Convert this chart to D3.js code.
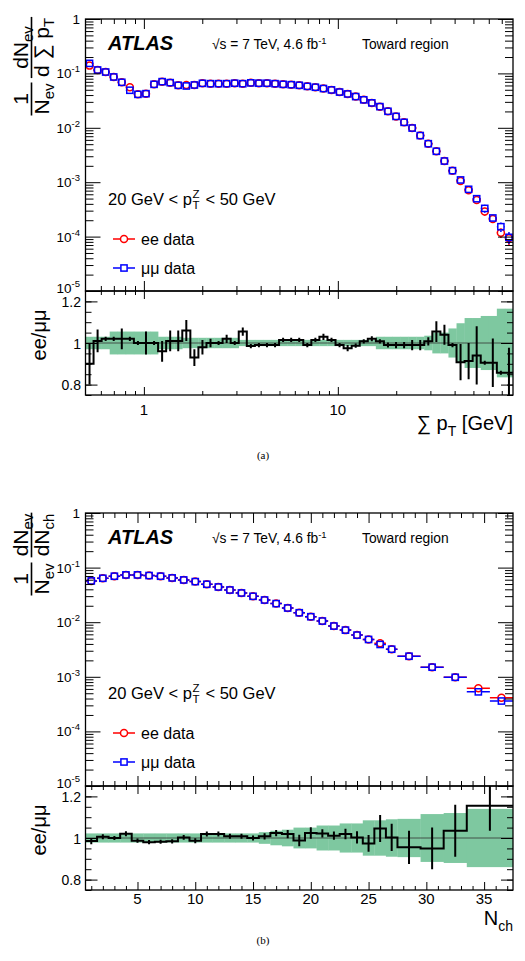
<!DOCTYPE html>
<html>
<head>
<meta charset="utf-8">
<script src="https://cdn.jsdelivr.net/npm/d3@7"></script>
<style>
  body { margin: 0; background: #fff; }
  svg { display: block; }
  text { font-family: "Liberation Sans", Arial, Helvetica, sans-serif; fill: #000; }
</style>
</head>
<body>
<div id="chart"></div>
<script>
// ---------- (a) sum pT, toward region ----------
const ptEdges = [0.5, 0.5502, 0.6055, 0.6664, 0.7333, 0.8070, 0.8881, 0.9773, 1.0755, 1.1836,
  1.3025, 1.4334, 1.5775, 1.7360, 1.9104, 2.1024, 2.3137, 2.5462, 2.8021, 3.0837,
  3.3936, 3.7346, 4.1099, 4.5229, 4.9774, 5.4776, 6.0280, 6.6338, 7.3004, 8.0340,
  8.8414, 9.7299, 10.708, 11.784, 12.968, 14.271, 15.705, 17.283, 19.020, 20.932,
  23.035, 25.350, 27.897, 30.701, 33.786, 37.181, 40.917, 45.029, 49.554, 54.534,
  60.014, 66.045, 72.682, 80.0];
const ptMuMu = [0.153, 0.1155, 0.106, 0.086, 0.0686, 0.049, 0.0412, 0.0424, 0.063, 0.0705,
  0.0676, 0.0604, 0.0587, 0.0612, 0.0657, 0.0647, 0.0647, 0.0647, 0.066, 0.0647,
  0.067, 0.066, 0.066, 0.0647, 0.063, 0.062, 0.0605, 0.0578, 0.0557, 0.0527,
  0.0497, 0.0454, 0.0419, 0.0375, 0.0327, 0.0287, 0.0245, 0.0201, 0.0162, 0.0126,
  0.0099, 0.0072, 0.0051, 0.0037, 0.00245, 0.00163, 0.00110, 0.00074, 0.000497, 0.00033,
  0.00022, 0.000152, 0.000097];
const ptEE = [0.139, 0.1155, 0.106, 0.086, 0.0686, 0.0557, 0.0412, 0.0424, 0.063, 0.0705,
  0.0676, 0.0604, 0.061, 0.0612, 0.0657, 0.0647, 0.0647, 0.0647, 0.066, 0.0647,
  0.067, 0.066, 0.066, 0.0647, 0.063, 0.062, 0.0605, 0.0578, 0.0557, 0.0527,
  0.0497, 0.0454, 0.0419, 0.0375, 0.0327, 0.0287, 0.0245, 0.0201, 0.0162, 0.0126,
  0.0099, 0.0072, 0.0051, 0.0037, 0.00245, 0.00163, 0.00105, 0.00071, 0.00047, 0.00029,
  0.00021, 0.000118, 0.000093];
const ptRelErr = [0.01, 0.01, 0.01, 0.01, 0.01, 0.01, 0.01, 0.01, 0.01, 0.01,
  0.01, 0.01, 0.01, 0.01, 0.01, 0.01, 0.01, 0.01, 0.01, 0.01,
  0.01, 0.01, 0.01, 0.01, 0.01, 0.01, 0.01, 0.01, 0.01, 0.01,
  0.01, 0.01, 0.01, 0.01, 0.01, 0.01, 0.01, 0.01, 0.01, 0.01,
  0.02, 0.02, 0.03, 0.03, 0.04, 0.05, 0.07, 0.09, 0.11, 0.17,
  0.15, 0.2, 0.25];
const ptRatio = [0.90, 1.01, 1.02, 1.02, 1.02, 1.02, 1.00, 1.00, 1.00, 0.96,
  1.01, 1.01, 1.06, 0.93, 0.98, 1.00, 1.00, 1.02, 1.00, 1.055,
  0.985, 0.99, 0.99, 0.99, 1.015, 1.015, 1.015, 0.99, 1.015, 1.03,
  1.015, 0.99, 0.975, 0.987, 1.008, 1.02, 1.008, 0.99, 0.99, 0.99,
  0.99, 0.99, 1.008, 1.055, 1.04, 0.99, 0.908, 0.913, 0.94, 0.905,
  0.905, 0.857, 0.857];
const ptRatioErr = [0.10, 0.055, 0.01, 0.01, 0.05, 0.01, 0.01, 0.055, 0.01, 0.05,
  0.05, 0.05, 0.05, 0.04, 0.035, 0.02, 0.01, 0.02, 0.01, 0.02,
  0.01, 0.01, 0.01, 0.01, 0.01, 0.01, 0.01, 0.01, 0.01, 0.015,
  0.01, 0.01, 0.015, 0.01, 0.01, 0.012, 0.01, 0.012, 0.015, 0.015,
  0.025, 0.025, 0.02, 0.05, 0.048, 0.01, 0.087, 0.087, 0.14, 0.01,
  0.117, 0.01, 0.12];
const ptBand = [0.03, 0.03, 0.03, 0.055, 0.055, 0.055, 0.055, 0.055, 0.055, 0.03,
  0.03, 0.03, 0.025, 0.025, 0.025, 0.025, 0.025, 0.025, 0.025, 0.015,
  0.015, 0.015, 0.015, 0.015, 0.015, 0.015, 0.015, 0.015, 0.015, 0.015,
  0.015, 0.015, 0.015, 0.015, 0.015, 0.015, 0.03, 0.03, 0.03, 0.03,
  0.03, 0.03, 0.035, 0.05, 0.05, 0.07, 0.095, 0.12, 0.12, 0.13,
  0.13, 0.165, 0.165];
const ptTickValues = [1, 10];
const ptTickLabels = ['1', '10'];

// ---------- (b) charged multiplicity, toward region ----------
const nchEdges = [0.5, 1.5, 2.5, 3.5, 4.5, 5.5, 6.5, 7.5, 8.5, 9.5, 10.5, 11.5, 12.5, 13.5,
  14.5, 15.5, 16.5, 17.5, 18.5, 19.5, 20.5, 21.5, 22.5, 23.5, 24.5, 25.5, 26.5, 27.5,
  29.5, 31.5, 33.5, 35.5, 37.5];
const nchMuMu = [0.057, 0.0638, 0.0695, 0.0735, 0.0735, 0.0715, 0.0695, 0.0647, 0.0594, 0.0554,
  0.0495, 0.0442, 0.0389, 0.0343, 0.0298, 0.0255, 0.0219, 0.0182, 0.0149, 0.0126,
  0.0105, 0.0085, 0.00716, 0.0058, 0.00483, 0.00391, 0.0032, 0.00238, 0.0015, 0.00098,
  0.00053, 0.00036];
const nchEE = [0.057, 0.0638, 0.0695, 0.0735, 0.0735, 0.0715, 0.0695, 0.0647, 0.0594, 0.0554,
  0.0495, 0.0442, 0.0389, 0.0343, 0.0298, 0.0255, 0.0219, 0.0182, 0.0149, 0.0126,
  0.0105, 0.0085, 0.00716, 0.0058, 0.00483, 0.0041, 0.0032, 0.00238, 0.0015, 0.00098,
  0.00062, 0.000415];
const nchRelErr = [0.005, 0.005, 0.005, 0.005, 0.005, 0.005, 0.005, 0.005, 0.005, 0.005,
  0.005, 0.005, 0.005, 0.005, 0.005, 0.005, 0.005, 0.005, 0.005, 0.005,
  0.005, 0.005, 0.005, 0.005, 0.005, 0.01, 0.01, 0.02, 0.03, 0.04,
  0.06, 0.08];
const nchRatioEdges = [0.5, 1.5, 2.5, 3.5, 4.5, 5.5, 6.5, 7.5, 8.5, 9.5, 10.5, 11.5, 12.5, 13.5,
  14.5, 15.5, 16.5, 17.5, 18.5, 19.5, 20.5, 21.5, 22.5, 23.5, 24.5, 25.5, 26.5, 27.5,
  29.5, 31.5, 33.5, 37.5];
const nchRatio = [0.985, 1.006, 1.0, 1.02, 0.987, 0.98, 0.982, 0.984, 1.003, 0.987,
  1.019, 1.019, 1.008, 1.008, 1.0, 1.008, 1.024, 1.019, 0.988, 1.024,
  1.022, 1.011, 1.019, 1.003, 0.974, 1.046, 1.003, 0.955, 0.95, 1.035, 1.155];
const nchRatioErr = [0.015, 0.012, 0.01, 0.012, 0.01, 0.01, 0.01, 0.01, 0.012, 0.012,
  0.012, 0.012, 0.012, 0.012, 0.012, 0.015, 0.015, 0.02, 0.028, 0.028,
  0.02, 0.02, 0.025, 0.03, 0.04, 0.065, 0.065, 0.08, 0.1, 0.125, 0.12];
const nchBand = [0.022, 0.022, 0.022, 0.022, 0.022, 0.022, 0.022, 0.022, 0.022, 0.022,
  0.022, 0.022, 0.022, 0.022, 0.022, 0.028, 0.035, 0.04, 0.05, 0.05,
  0.06, 0.06, 0.07, 0.07, 0.085, 0.085, 0.09, 0.092, 0.115, 0.12, 0.14];
const nchTickValues = [5, 10, 15, 20, 25, 30, 35];
const nchTickLabels = ['5', '10', '15', '20', '25', '30', '35'];

// shared axis labels
const mainYTicks = [1, 1e-1, 1e-2, 1e-3, 1e-4, 1e-5];
const mainYBase = ['1', '10', '10', '10', '10', '10'];
const mainYExp = ['', '-1', '-2', '-3', '-4', '-5'];
const ratioYTicks = [1.2, 1, 0.8];
const ratioYLabels = ['1.2', '1', '0.8'];

// ---------- layout ----------
const W = 525, H = 961;
const left = 85.5, right = 513;
const red = '#ff0000', blue = '#0000ff', green = '#7ec8a0';

const svg = d3.select('#chart').append('svg')
    .attr('width', W)
    .attr('height', H);
const defs = svg.append('defs');

function tickSet(axis, scale, values, size, tx, ty) {
    const a = svg.append('g')
        .attr('transform', `translate(${tx},${ty})`)
        .call(axis(scale).tickValues(values).tickSize(size).tickFormat(''));
    a.select('.domain').remove();
    a.selectAll('line').attr('stroke', '#000').attr('stroke-width', 1);
}

function rotatedText(cx, cy, size) {
    // local x runs up the page, local y is the screen x of the baseline
    return svg.append('g')
        .attr('transform', `translate(0,${cy}) rotate(-90)`)
        .append('text')
        .attr('x', 0).attr('y', cx)
        .attr('text-anchor', 'middle')
        .attr('font-size', size);
}

function fraction(cy, num, den) {
    const g = svg.append('g').attr('transform', `translate(0,${cy}) rotate(-90)`);
    const parts = [[num, 28], [den, 49]].map(([p, base]) => {
        const t = g.append('text').attr('x', 0).attr('y', base)
            .attr('text-anchor', 'middle').attr('font-size', 21);
        t.append('tspan').text(p[0]);
        if (p[1]) t.append('tspan').attr('font-size', 15).attr('dy', 5).text(p[1]);
        return t.node().getComputedTextLength();
    });
    const half = Math.max(...parts) / 2 + 1;
    g.append('line').attr('x1', -half).attr('x2', half).attr('y1', 31.5).attr('y2', 31.5)
        .attr('stroke', '#000').attr('stroke-width', 1.6);
}

function drawPanel(p) {
    const x = p.x;
    const y = d3.scaleLog().domain([1e-5, 1]).range([p.mid, p.top]);
    const r = d3.scaleLinear().domain([0.75, 1.25]).range([p.bottom, p.mid]);

    defs.append('clipPath').attr('id', p.id + 'main').append('rect')
        .attr('x', left).attr('y', p.top).attr('width', right - left).attr('height', p.mid - p.top);
    defs.append('clipPath').attr('id', p.id + 'ratio').append('rect')
        .attr('x', left).attr('y', p.mid).attr('width', right - left).attr('height', p.bottom - p.mid);

    // ratio panel: band, unity line, step histogram, error bars
    const gr = svg.append('g').attr('clip-path', `url(#${p.id}ratio)`);
    const re = p.rEdges;
    gr.selectAll('rect.band').data(p.band).join('rect')
        .attr('class', 'band')
        .attr('x', (d, i) => x(re[i]))
        .attr('width', (d, i) => x(re[i + 1]) - x(re[i]) + 0.3)
        .attr('y', d => r(1 + d))
        .attr('height', d => r(1 - d) - r(1 + d))
        .attr('fill', green);
    gr.append('line')
        .attr('x1', left).attr('x2', right).attr('y1', r(1)).attr('y2', r(1))
        .attr('stroke', '#333').attr('stroke-width', 0.8);
    const steps = p.ratio.map((v, i) => [re[i], v]);
    steps.push([re[re.length - 1], p.ratio[p.ratio.length - 1]]);
    gr.append('path')
        .attr('d', d3.line().x(d => x(d[0])).y(d => r(d[1])).curve(d3.curveStepAfter)(steps))
        .attr('fill', 'none').attr('stroke', '#000').attr('stroke-width', 2);
    gr.selectAll('line.err').data(p.ratio).join('line')
        .attr('class', 'err')
        .attr('x1', (d, i) => x(p.centre(re[i], re[i + 1])))
        .attr('x2', (d, i) => x(p.centre(re[i], re[i + 1])))
        .attr('y1', (d, i) => r(d - p.rErr[i]))
        .attr('y2', (d, i) => r(d + p.rErr[i]))
        .attr('stroke', '#000').attr('stroke-width', 2);

    // main panel: ee circles, mumu squares
    const gm = svg.append('g').attr('clip-path', `url(#${p.id}main)`);
    [[p.ee, red, 'circle'], [p.mm, blue, 'square']].forEach(([vals, col, shape]) => {
        const pts = vals.map((v, i) => {
            const lo = p.edges[i], hi = p.edges[i + 1];
            return { lo, hi, c: p.centre(lo, hi), v, e: p.relErr[i] };
        });
        const gap = 3.5;
        const s = gm.append('g').attr('stroke', col).attr('stroke-width', 1.5).attr('fill', 'none');
        s.selectAll('path.bar').data(pts).join('path')
            .attr('class', 'bar')
            .attr('d', d => {
                const cx = x(d.c), cy = y(d.v);
                let path = `M${x(d.lo)},${cy}H${Math.max(x(d.lo), cx - gap)}M${Math.min(x(d.hi), cx + gap)},${cy}H${x(d.hi)}`;
                const up = y(d.v * (1 + d.e)), dn = y(d.v * (1 - d.e));
                if (cy - up > gap) path += `M${cx},${up}V${cy - gap}`;
                if (dn - cy > gap) path += `M${cx},${cy + gap}V${dn}`;
                return path;
            });
        if (shape === 'circle') {
            s.selectAll('circle').data(pts).join('circle')
                .attr('cx', d => x(d.c)).attr('cy', d => y(d.v)).attr('r', 3.5);
        } else {
            s.selectAll('rect').data(pts).join('rect')
                .attr('x', d => x(d.c) - 3.1).attr('y', d => y(d.v) - 3.1)
                .attr('width', 6.2).attr('height', 6.2);
        }
    });

    // ticks, all pointing inward
    const yMinor = [];
    for (let e = -5; e < 0; e++) for (let m = 2; m <= 9; m++) yMinor.push(m * Math.pow(10, e));
    tickSet(d3.axisLeft, y, mainYTicks, -15, left, 0);
    tickSet(d3.axisLeft, y, yMinor, -8, left, 0);
    tickSet(d3.axisRight, y, mainYTicks, -15, right, 0);
    tickSet(d3.axisRight, y, yMinor, -8, right, 0);
    tickSet(d3.axisTop, x, p.xMajor, -10, 0, p.top);
    tickSet(d3.axisTop, x, p.xMinor, -5, 0, p.top);
    tickSet(d3.axisBottom, x, p.xMajor, -10, 0, p.mid);
    tickSet(d3.axisBottom, x, p.xMinor, -5, 0, p.mid);
    tickSet(d3.axisTop, x, p.xMajor, -8, 0, p.mid);
    tickSet(d3.axisTop, x, p.xMinor, -4, 0, p.mid);
    tickSet(d3.axisBottom, x, p.xMajor, -8, 0, p.bottom);
    tickSet(d3.axisBottom, x, p.xMinor, -4, 0, p.bottom);
    const rMinor = d3.range(0.75, 1.2501, 0.05);
    tickSet(d3.axisLeft, r, ratioYTicks, -12, left, 0);
    tickSet(d3.axisLeft, r, rMinor, -6, left, 0);
    tickSet(d3.axisRight, r, ratioYTicks, -12, right, 0);
    tickSet(d3.axisRight, r, rMinor, -6, right, 0);

    // frames
    svg.append('rect').attr('x', left).attr('y', p.top).attr('width', right - left)
        .attr('height', p.mid - p.top).attr('fill', 'none').attr('stroke', '#000').attr('stroke-width', 1.3);
    svg.append('rect').attr('x', left).attr('y', p.mid).attr('width', right - left)
        .attr('height', p.bottom - p.mid).attr('fill', 'none').attr('stroke', '#000').attr('stroke-width', 1.3);

    // tick labels
    svg.append('g').selectAll('text').data(mainYTicks).join('text')
        .attr('x', 80).attr('y', (d, i) => y(d) + (i === mainYTicks.length - 1 ? 2 : 5))
        .attr('text-anchor', 'end').attr('font-size', 13.5)
        .each(function (d, i) {
            const t = d3.select(this);
            t.append('tspan').text(mainYBase[i]);
            if (mainYExp[i]) t.append('tspan').attr('font-size', 9.5).attr('dy', -6).text(mainYExp[i]);
        });
    svg.append('g').selectAll('text').data(ratioYTicks).join('text')
        .attr('x', 81).attr('y', d => r(d) + 5.5)
        .attr('text-anchor', 'end').attr('font-size', 14)
        .text((d, i) => ratioYLabels[i]);
    svg.append('g').selectAll('text').data(p.xMajor).join('text')
        .attr('x', d => x(d)).attr('y', p.xLabelY)
        .attr('text-anchor', 'middle').attr('font-size', 15)
        .text((d, i) => p.xLabels[i]);

    // header texts
    svg.append('text').attr('x', 108).attr('y', p.top + 31)
        .attr('font-size', 20).attr('font-weight', 'bold').attr('font-style', 'italic')
        .text('ATLAS');
    const en = svg.append('text').attr('x', 212).attr('y', p.top + 30).attr('font-size', 13.8);
    en.append('tspan').text('√s = 7 TeV, 4.6 fb');
    en.append('tspan').attr('font-size', 9.5).attr('dy', -5).text('-1');
    svg.append('text').attr('x', 362).attr('y', p.top + 30).attr('font-size', 13.8).text('Toward region');

    // kinematic range
    const kb = p.top + 186;
    const k = svg.append('text').attr('x', 108).attr('y', kb).attr('font-size', 16.5).text('20 GeV < p');
    const kw = k.node().getComputedTextLength();
    svg.append('text').attr('x', 108 + kw + 0.5).attr('y', kb - 7.5).attr('font-size', 11.5).text('Z');
    svg.append('text').attr('x', 108 + kw + 0.5).attr('y', kb + 4).attr('font-size', 11.5).text('T');
    svg.append('text').attr('x', 108 + kw + 13.5).attr('y', kb).attr('font-size', 16.5).text('< 50 GeV');

    // legend
    [['ee data', red, 'circle', 220], ['μμ data', blue, 'square', 249]].forEach(([label, col, shape, dy]) => {
        const ly = p.top + dy, lx = 124;
        const g = svg.append('g').attr('stroke', col).attr('stroke-width', 1.5).attr('fill', 'none');
        g.append('path').attr('d', `M${lx - 11},${ly}H${lx - 3.5}M${lx + 3.5},${ly}H${lx + 11}`);
        if (shape === 'circle') g.append('circle').attr('cx', lx).attr('cy', ly).attr('r', 3.5);
        else g.append('rect').attr('x', lx - 3.1).attr('y', ly - 3.1).attr('width', 6.2).attr('height', 6.2);
        svg.append('text').attr('x', 141).attr('y', ly + 5.5).attr('font-size', 16).text(label);
    });

    // axis titles
    fraction(p.fracTop, p.fracTopParts[0], p.fracTopParts[1]);
    fraction(p.fracOne, ['1', ''], ['N', 'ev']);
    rotatedText(46, (p.mid + p.bottom) / 2 - 8, 20).text('ee/μμ');
    const xt = svg.append('text').attr('x', right).attr('y', p.xTitleY)
        .attr('text-anchor', 'end').attr('font-size', 20);
    p.xTitle.forEach(([txt, kind]) => {
        const ts = xt.append('tspan').text(txt);
        if (kind === 'sub') ts.attr('font-size', 14).attr('dy', 6);
        if (kind === 'back') ts.attr('dy', -6);
    });

    svg.append('text').attr('x', 263).attr('y', p.caption)
        .attr('text-anchor', 'middle').attr('font-size', 11)
        .style('font-family', '"Liberation Serif", "Times New Roman", serif')
        .text(p.id === 'a' ? '(a)' : '(b)');
}

const ptMinor = [0.6, 0.7, 0.8, 0.9, 2, 3, 4, 5, 6, 7, 8, 9, 20, 30, 40, 50, 60, 70];
drawPanel({
    id: 'a', top: 19, mid: 291, bottom: 395,
    x: d3.scaleLog().domain([0.5, 80]).range([left, right]),
    centre: (lo, hi) => Math.sqrt(lo * hi),
    edges: ptEdges, ee: ptEE, mm: ptMuMu, relErr: ptRelErr,
    rEdges: ptEdges, ratio: ptRatio, rErr: ptRatioErr, band: ptBand,
    xMajor: ptTickValues, xLabels: ptTickLabels, xMinor: ptMinor, xLabelY: 415,
    fracTop: 47.5, fracTopParts: [['dN', 'ev'], ['d ∑ p', 'T']], fracOne: 99,
    xTitle: [['∑ p', ''], ['T', 'sub'], [' [GeV]', 'back']], xTitleY: 430,
    caption: 459
});

const nchMinor = d3.range(1, 38).filter(v => v % 5 !== 0);
drawPanel({
    id: 'b', top: 513, mid: 786, bottom: 890,
    x: d3.scaleLinear().domain([0.5, 37.5]).range([left, right]),
    centre: (lo, hi) => (lo + hi) / 2,
    edges: nchEdges, ee: nchEE, mm: nchMuMu, relErr: nchRelErr,
    rEdges: nchRatioEdges, ratio: nchRatio, rErr: nchRatioErr, band: nchBand,
    xMajor: nchTickValues, xLabels: nchTickLabels, xMinor: nchMinor, xLabelY: 904,
    fracTop: 535, fracTopParts: [['dN', 'ev'], ['dN', 'ch']], fracOne: 579,
    xTitle: [['N', ''], ['ch', 'sub']], xTitleY: 925,
    caption: 944
});
</script>
</body>
</html>
